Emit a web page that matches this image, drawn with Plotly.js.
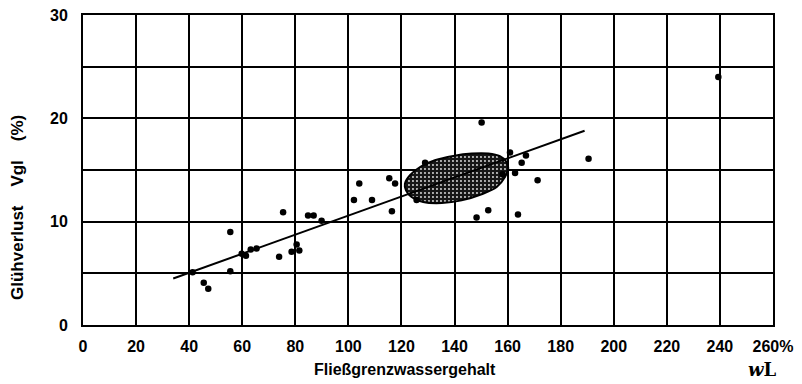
<!DOCTYPE html>
<html>
<head>
<meta charset="utf-8">
<script src="https://cdn.plot.ly/plotly-3.0.1.min.js"></script>
<style>html,body{margin:0;padding:0;background:#fff;}#chart{width:802px;height:384px;}</style>
</head>
<body>
<div id="chart"></div>
<script>
// Data points: liquid limit wL (%) vs. loss on ignition Vgl (%)
const wL = [41.3, 45.5, 47.2, 55.5, 55.5, 59.8, 61.4, 63.2, 65.4, 73.9, 75.4, 78.6, 80.5, 81.5, 84.8, 86.9, 89.9,
            102.1, 104.1, 108.9, 115.4, 117.6, 116.4, 125.7, 128.9, 150.2, 160.9, 166.9, 165.3, 162.8, 171.3,
            190.5, 152.7, 148.3, 163.9, 158.1, 239.4];
const Vgl = [5.1, 4.1, 3.5, 9.0, 5.2, 6.9, 6.7, 7.3, 7.4, 6.6, 10.9, 7.1, 7.8, 7.2, 10.6, 10.6, 10.1,
             12.1, 13.7, 12.1, 14.2, 13.7, 11.0, 12.1, 15.7, 19.6, 16.7, 16.4, 15.7, 14.7, 14.0,
             16.1, 11.1, 10.4, 10.7, 14.6, 24.0];

// Regression line end points
const fitX = [34, 189];
const fitY = [4.5, 18.8];

// Outline of the dense cluster (ellipse)
const clusterX = [121.3, 123.2, 127.0, 132.6, 139.5, 146.5, 152.7, 157.1, 159.6, 160.2, 159.0, 155.9, 150.2, 142.7, 135.2, 128.2, 123.8, 121.7, 121.3];
const clusterY = [13.68, 14.49, 15.29, 15.94, 16.36, 16.59, 16.59, 16.33, 15.78, 15.14, 14.32, 13.35, 12.65, 12.06, 11.80, 11.90, 12.38, 13.03, 13.68];

// Tick values / labels
const xTickVals = [0, 20, 40, 60, 80, 100, 120, 140, 160, 180, 200, 220, 240, 260];
const xTickText = ['0', '20', '40', '60', '80', '100', '120', '140', '160', '180', '200', '220', '240', '260%'];
const yTickVals = [0, 5, 10, 15, 20, 25, 30];
const yTickText = ['0', '', '10', '', '20', '', '30'];

const FONT = 'Liberation Sans, Arial, sans-serif';
const bold = s => s ? '<b>' + s + '</b>' : '';

const traces = [
  {
    x: clusterX, y: clusterY, type: 'scatter', mode: 'lines',
    line: {color: '#000', width: 2, shape: 'spline', smoothing: 1},
    fill: 'toself', fillcolor: '#1c1c1c',
    fillpattern: {shape: '.', bgcolor: '#161616', fgcolor: '#e0e0e0', size: 4, solidity: 0.18},
    hoverinfo: 'skip', showlegend: false
  },
  {
    x: fitX, y: fitY, type: 'scatter', mode: 'lines',
    line: {color: '#000', width: 2}, showlegend: false
  },
  {
    x: wL, y: Vgl, type: 'scatter', mode: 'markers',
    marker: {color: '#000', size: 6.5}, showlegend: false
  }
];

const layout = {
  width: 802, height: 384,
  margin: {l: 83, r: 29, t: 15, b: 59},
  paper_bgcolor: '#fff', plot_bgcolor: '#fff',
  showlegend: false,
  xaxis: {
    range: [0, 260], tickvals: xTickVals, ticktext: xTickText.map(bold),
    showgrid: true, gridcolor: '#000', gridwidth: 2,
    zeroline: false, showline: true, linecolor: '#000', linewidth: 2, mirror: true,
    ticks: '', tickfont: {family: FONT, size: 16, color: '#000'},
    ticklabelstandoff: 6,
    fixedrange: true
  },
  yaxis: {
    range: [0, 30], tickvals: yTickVals, ticktext: yTickText.map(bold),
    showgrid: true, gridcolor: '#000', gridwidth: 2,
    zeroline: false, showline: true, linecolor: '#000', linewidth: 2, mirror: true,
    ticks: '', tickfont: {family: FONT, size: 16, color: '#000'},
    ticklabelstandoff: 10,
    fixedrange: true
  },
  annotations: [
    {text: '<b>Fließgrenzwassergehalt</b>', xref: 'paper', yref: 'paper', x: 0.467, y: -0.145,
     showarrow: false, xanchor: 'center', yanchor: 'middle',
     font: {family: FONT, size: 16, color: '#000'}},
    {text: '<b>Glühverlust    Vgl    (%)</b>', xref: 'paper', yref: 'paper', x: -0.096, y: 0.38,
     showarrow: false, textangle: -90, xanchor: 'center', yanchor: 'middle',
     font: {family: FONT, size: 17, color: '#000'}},
    {text: '<b><i>w</i>L</b>', xref: 'paper', yref: 'paper', x: 0.985, y: -0.145,
     showarrow: false, xanchor: 'center', yanchor: 'middle',
     font: {family: 'DejaVu Serif, serif', size: 18, color: '#000'}}
  ]
};

Plotly.newPlot('chart', traces, layout, {staticPlot: true, displayModeBar: false});
</script>
</body>
</html>
